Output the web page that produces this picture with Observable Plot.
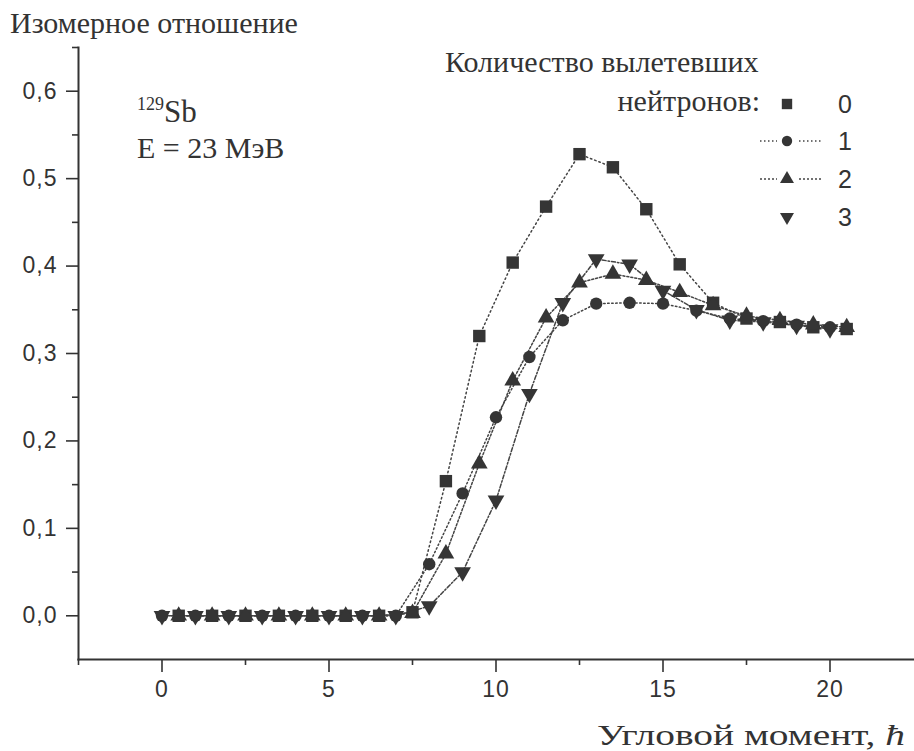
<!DOCTYPE html>
<html><head><meta charset="utf-8">
<script src="https://cdn.jsdelivr.net/npm/d3@7"></script>
<script src="https://cdn.jsdelivr.net/npm/@observablehq/plot@0.6"></script>
<style>
body{margin:0;background:#fff}
#wrap{position:relative;width:914px;height:751px;background:#fff}
#overlay{position:absolute;left:0;top:0;pointer-events:none}
#wrap g[aria-label$="tick label"] text{letter-spacing:1px}
</style>
</head><body><div id="wrap"></div>
<script>
// angular momentum values (ħ)
const angleInt  = [0,1,2,3,4,5,6,7,8,9,10,11,12,13,14,15,16,17,18,19,20];
const angleHalf = [0.5,1.5,2.5,3.5,4.5,5.5,6.5,7.5,8.5,9.5,10.5,11.5,12.5,13.5,14.5,15.5,16.5,17.5,18.5,19.5,20.5];
// isomeric ratio by number of emitted neutrons
const ratio0 = [0,0,0,0,0,0,0,0.004,0.154,0.320,0.404,0.468,0.528,0.513,0.465,0.402,0.358,0.340,0.336,0.330,0.328];
const ratio1 = [0,0,0,0,0,0,0,0,0.059,0.140,0.227,0.296,0.338,0.357,0.358,0.357,0.349,0.340,0.337,0.333,0.330];
const ratio2 = [0,0,0,0,0,0,0,0.003,0.071,0.174,0.269,0.341,0.381,0.391,0.384,0.370,0.355,0.343,0.338,0.333,0.330];
const ratio3 = [0,0,0,0,0,0,0,0,0.011,0.050,0.132,0.254,0.358,0.408,0.402,0.372,0.350,0.338,0.336,0.332,0.328];
const seriesNames = ["0","1","2","3"];
const yTicks = [0,0.1,0.2,0.3,0.4,0.5,0.6];
const yMinorTicks = [0.05,0.15,0.25,0.35,0.45,0.55,0.65];
const xTicks = [0,5,10,15,20];
const xMinorTicks = [-2.5,2.5,7.5,12.5,17.5];

const ink = "#333";
const triangleDown = {
  draw(context, size) {
    const s3 = Math.sqrt(3);
    const y = -Math.sqrt(size / (s3 * 3));
    context.moveTo(0, -y * 2);
    context.lineTo(-s3 * y, y);
    context.lineTo(s3 * y, y);
    context.closePath();
  }
};
const series = [
  {name: seriesNames[0], xs: angleHalf, ys: ratio0, symbol: "square", r: 7, dash: "1.5,3", legendLine: false},
  {name: seriesNames[1], xs: angleInt, ys: ratio1, symbol: "circle", r: 6.2, dash: "1.5,2.5", legendLine: true},
  {name: seriesNames[2], xs: angleHalf, ys: ratio2, symbol: "triangle", r: 6.2, dash: "2,2", legendLine: true},
  {name: seriesNames[3], xs: angleInt, ys: ratio3, symbol: triangleDown, r: 6.2, dash: "4,2,1.5,2", legendLine: false}
];
const tables = series.map(s => s.xs.map((x, i) => ({x, y: s.ys[i]})));

const fmt = d => d.toFixed(1).replace(".", ",");
const sansF = "'Liberation Sans', Arial, sans-serif";
const plot = Plot.plot({
  width: 914, height: 751,
  marginLeft: 78, marginRight: 1, marginTop: 47, marginBottom: 92,
  x: {domain: [-2.5, 22.5]},
  y: {domain: [-0.05, 0.65]},
  style: {fontFamily: sansF, fontSize: "23px", color: ink, background: "#fff"},
  marks: [
    Plot.axisY({ticks: yTicks, tickSize: 12, tickPadding: 9, tickFormat: fmt, label: null, stroke: ink, strokeWidth: 1.6, fontSize: 23, fill: ink}),
    Plot.axisY({ticks: yMinorTicks, tickSize: 6, tickFormat: () => "", label: null, stroke: ink, strokeWidth: 1.6}),
    Plot.axisX({ticks: xTicks, tickSize: 13, tickPadding: 8, label: null, stroke: ink, strokeWidth: 1.6, fontSize: 23, fill: ink}),
    Plot.axisX({ticks: xMinorTicks, tickSize: 6, tickFormat: () => "", label: null, stroke: ink, strokeWidth: 1.6}),
    Plot.frame({anchor: "left", stroke: ink, strokeWidth: 2}),
    Plot.frame({anchor: "bottom", stroke: ink, strokeWidth: 2}),
    ...series.map((s, k) => Plot.line(tables[k], {x: "x", y: "y", stroke: "#444", strokeWidth: 1.5, strokeDasharray: s.dash})),
    ...series.map((s, k) => Plot.dot(tables[k], {x: "x", y: "y", symbol: s.symbol, r: s.r, fill: "#353535", stroke: "none"}))
  ]
});
const wrap = document.getElementById("wrap");
wrap.appendChild(plot);

// overlay: axis titles, annotation, legend
const ov = d3.select(wrap).append("svg").attr("id", "overlay").attr("width", 914).attr("height", 751);
const serif = "'Liberation Serif', 'Times New Roman', serif";
ov.append("text").attr("x", 10).attr("y", 33).attr("font-family", serif).attr("font-size", 30).attr("fill", ink).text("Изомерное отношение");
const xl = ov.append("text").attr("x", 597).attr("y", 745).attr("font-family", serif).attr("font-size", 30)
  .attr("textLength", 308).attr("lengthAdjust", "spacingAndGlyphs").attr("fill", ink);
xl.append("tspan").text("Угловой момент, ");
xl.append("tspan").attr("font-style", "italic").text("ħ");
const a1 = ov.append("text").attr("x", 137).attr("y", 122).attr("font-family", serif).attr("font-size", 31).attr("fill", ink);
a1.append("tspan").attr("font-size", 18).attr("dy", -12).text("129");
a1.append("tspan").attr("dy", 12).text("Sb");
ov.append("text").attr("x", 137).attr("y", 158).attr("font-family", serif).attr("font-size", 30).attr("fill", ink).text("E = 23 МэВ");
ov.append("text").attr("x", 445).attr("y", 72).attr("font-family", serif).attr("font-size", 30).attr("fill", ink).text("Количество вылетевших");
ov.append("text").attr("x", 760).attr("y", 111).attr("text-anchor", "end").attr("font-family", serif).attr("font-size", 30).attr("fill", ink).text("нейтронов:");
const rowY = [104, 141, 179, 217];
series.forEach((s, k) => {
  const g = ov.append("g").attr("transform", `translate(787,${rowY[k]})`);
  if (s.legendLine) {
    g.append("line").attr("x1", -27).attr("x2", -10).attr("stroke", "#444").attr("stroke-width", 1.5).attr("stroke-dasharray", s.dash);
    g.append("line").attr("x1", 12).attr("x2", 36).attr("stroke", "#444").attr("stroke-width", 1.5).attr("stroke-dasharray", s.dash);
  }
  const sym = s.symbol === "square" ? d3.symbolSquare : s.symbol === "circle" ? d3.symbolCircle : s.symbol === "triangle" ? d3.symbolTriangle : s.symbol;
  g.append("path").attr("d", d3.symbol(sym, Math.PI * s.r * s.r * 0.7)()).attr("fill", "#353535");
  ov.append("text").attr("x", 845).attr("y", rowY[k] + 9).attr("text-anchor", "middle").attr("font-family", sansF).attr("font-size", 25).attr("fill", ink).text(s.name);
});
</script>
</body></html>
